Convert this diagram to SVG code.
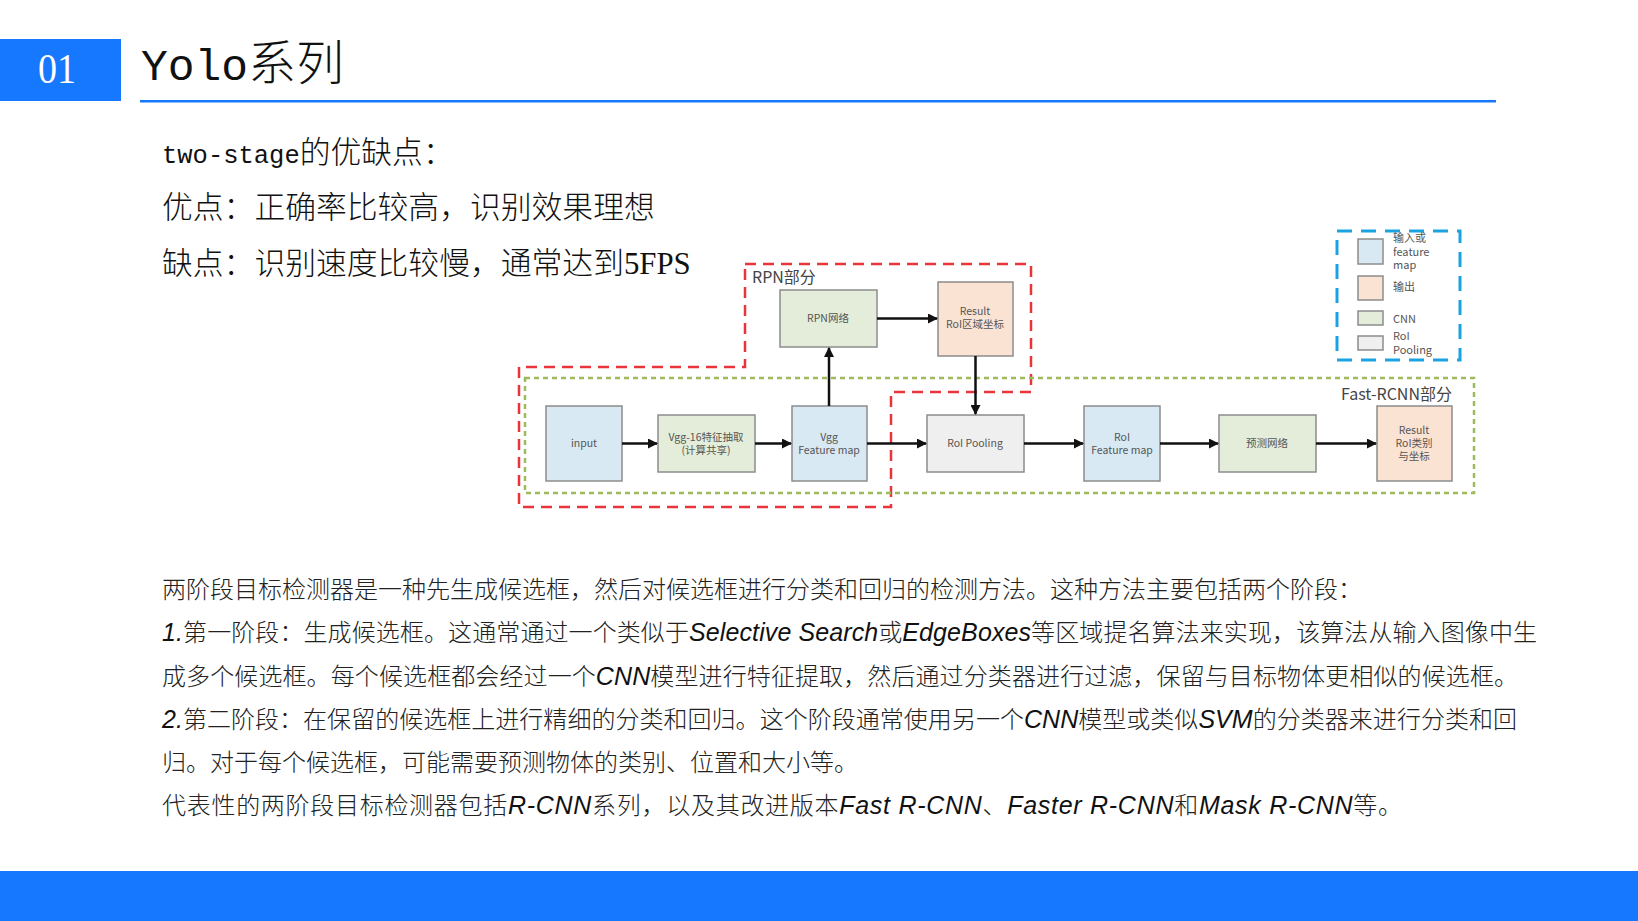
<svg xmlns="http://www.w3.org/2000/svg" width="1638" height="921" viewBox="0 0 1638 921">
<defs>
<style>
.serif{font-family:"Liberation Serif","Noto Sans CJK SC",serif;fill:#111;}
.body{font-family:"Noto Sans CJK SC",sans-serif;font-size:24px;fill:#222;}
.lat{font-family:"Liberation Sans","DejaVu Sans",sans-serif;font-style:italic;font-size:25px;fill:#111;}
.node rect{stroke:#8c8c8c;stroke-width:1.5;}
.nt{font-family:"Noto Sans CJK SC",sans-serif;font-size:10.5px;fill:#555;text-anchor:middle;}
.blue{fill:#d8e9f4;}
.green{fill:#e4edd9;}
.peach{fill:#fbe3d4;}
.grey{fill:#efefef;}
.conn line{stroke:#111;stroke-width:2.5;}
.lab{font-family:"Noto Sans CJK SC",sans-serif;font-size:16px;fill:#444;}
.lt{font-family:"Noto Sans CJK SC",sans-serif;font-size:11px;fill:#555;}
</style>
<marker id="ah" viewBox="0 0 10 10" refX="9" refY="5" markerWidth="4" markerHeight="4" orient="auto" markerUnits="strokeWidth">
<path d="M0,0 L10,5 L0,10 Z" fill="#111"/>
</marker>
</defs>
<rect width="1638" height="921" fill="#fff"/>

<g id="header">
<rect x="0" y="39" width="121" height="62" fill="#1677ff"/>
<text x="57" y="83" font-family="Liberation Serif,serif" font-size="42" fill="#fff" text-anchor="middle" textLength="38" lengthAdjust="spacingAndGlyphs">01</text>
<text x="141" y="80" font-size="48" class="serif"><tspan font-family="Liberation Mono,monospace" font-size="44.6">Yolo</tspan><tspan font-family="Noto Sans CJK SC,sans-serif" font-weight="300">系列</tspan></text>
<rect x="140" y="100" width="1356" height="2.5" fill="#1677ff"/>
</g>

<g id="pros-cons">
<text x="162" y="163" font-size="30.8" class="serif"><tspan font-family="Liberation Mono,monospace" font-size="25.5">two-stage</tspan><tspan font-family="Noto Sans CJK SC,sans-serif" font-weight="300">的优缺点：</tspan></text>
<text x="162" y="218" font-size="30.8" font-family="Noto Sans CJK SC,sans-serif" font-weight="300" fill="#111">优点：正确率比较高，识别效果理想</text>
<text x="162" y="274" font-size="30.8" font-family="Noto Sans CJK SC,sans-serif" font-weight="300" fill="#111">缺点：识别速度比较慢，通常达到<tspan font-family="Liberation Serif,serif">5FPS</tspan></text>
</g>

<g id="regions" fill="none">
<path d="M745,264 H1031 V392 H891 V507 H519 V367 H745 Z" stroke="#e8343a" stroke-width="2.5" stroke-dasharray="11,7"/>
<rect x="525" y="378" width="949" height="115" stroke="#9dbb5c" stroke-width="2.5" stroke-dasharray="5,4"/>
<rect x="1337" y="231" width="123" height="129" stroke="#1aa3e0" stroke-width="3" stroke-dasharray="15,9"/>
<text x="752" y="283" class="lab">RPN部分</text>
<text x="1452" y="400" class="lab" text-anchor="end">Fast-RCNN部分</text>
</g>

<g id="legend">
<rect x="1358" y="239" width="25" height="25" class="blue" stroke="#8c8c8c" stroke-width="1.5"/>
<rect x="1358" y="276" width="25" height="24" class="peach" stroke="#8c8c8c" stroke-width="1.5"/>
<rect x="1358" y="311" width="25" height="14" class="green" stroke="#8c8c8c" stroke-width="1.5"/>
<rect x="1358" y="336" width="25" height="14" class="grey" stroke="#8c8c8c" stroke-width="1.5"/>
<text class="lt" x="1393" y="242">输入或</text>
<text class="lt" x="1393" y="256">feature</text>
<text class="lt" x="1393" y="269">map</text>
<text class="lt" x="1393" y="291">输出</text>
<text class="lt" x="1393" y="323">CNN</text>
<text class="lt" x="1393" y="340">RoI</text>
<text class="lt" x="1393" y="354">Pooling</text>
</g>

<g id="input" class="node"><rect x="546" y="406" width="76" height="75" class="blue"/><text class="nt" x="584" y="447">input</text></g>
<g id="vgg16" class="node"><rect x="658" y="415" width="97" height="57" class="green"/><text class="nt" x="706" y="441">Vgg-16特征抽取</text><text class="nt" x="706" y="454">(计算共享)</text></g>
<g id="vggfm" class="node"><rect x="792" y="406" width="75" height="75" class="blue"/><text class="nt" x="829" y="441">Vgg</text><text class="nt" x="829" y="454">Feature map</text></g>
<g id="rpn" class="node"><rect x="780" y="290" width="97" height="57" class="green"/><text class="nt" x="828" y="322">RPN网络</text></g>
<g id="result1" class="node"><rect x="938" y="282" width="75" height="74" class="peach"/><text class="nt" x="975" y="315">Result</text><text class="nt" x="975" y="328">RoI区域坐标</text></g>
<g id="roipool" class="node"><rect x="927" y="415" width="97" height="57" class="grey"/><text class="nt" x="975" y="447">RoI Pooling</text></g>
<g id="roifm" class="node"><rect x="1084" y="406" width="76" height="75" class="blue"/><text class="nt" x="1122" y="441">RoI</text><text class="nt" x="1122" y="454">Feature map</text></g>
<g id="pred" class="node"><rect x="1219" y="415" width="97" height="57" class="green"/><text class="nt" x="1267" y="447">预测网络</text></g>
<g id="result2" class="node"><rect x="1377" y="406" width="75" height="75" class="peach"/><text class="nt" x="1414" y="434">Result</text><text class="nt" x="1414" y="447">RoI类别</text><text class="nt" x="1414" y="460">与坐标</text></g>

<g id="connectors" class="conn">
<line x1="622" y1="443.5" x2="657" y2="443.5" marker-end="url(#ah)"/>
<line x1="755" y1="443.5" x2="791" y2="443.5" marker-end="url(#ah)"/>
<line x1="867" y1="443.5" x2="926" y2="443.5" marker-end="url(#ah)"/>
<line x1="829" y1="406" x2="829" y2="348" marker-end="url(#ah)"/>
<line x1="877" y1="318.5" x2="937" y2="318.5" marker-end="url(#ah)"/>
<line x1="975.5" y1="356" x2="975.5" y2="414" marker-end="url(#ah)"/>
<line x1="1024" y1="443.5" x2="1083" y2="443.5" marker-end="url(#ah)"/>
<line x1="1160" y1="443.5" x2="1218" y2="443.5" marker-end="url(#ah)"/>
<line x1="1316" y1="443.5" x2="1376" y2="443.5" marker-end="url(#ah)"/>
</g>

<g id="paragraph" font-weight="300">
<text class="body" x="162" y="598">两阶段目标检测器是一种先生成候选框，然后对候选框进行分类和回归的检测方法。这种方法主要包括两个阶段：</text>
<text class="body" x="162" y="641" textLength="1375" lengthAdjust="spacing"><tspan class="lat">1.</tspan>第一阶段：生成候选框。这通常通过一个类似于<tspan class="lat">Selective Search</tspan>或<tspan class="lat">EdgeBoxes</tspan>等区域提名算法来实现，该算法从输入图像中生</text>
<text class="body" x="162" y="685" textLength="1356" lengthAdjust="spacing">成多个候选框。每个候选框都会经过一个<tspan class="lat">CNN</tspan>模型进行特征提取，然后通过分类器进行过滤，保留与目标物体更相似的候选框。</text>
<text class="body" x="162" y="728" textLength="1355" lengthAdjust="spacing"><tspan class="lat">2.</tspan>第二阶段：在保留的候选框上进行精细的分类和回归。这个阶段通常使用另一个<tspan class="lat">CNN</tspan>模型或类似<tspan class="lat">SVM</tspan>的分类器来进行分类和回</text>
<text class="body" x="162" y="771">归。对于每个候选框，可能需要预测物体的类别、位置和大小等。</text>
<text class="body" x="162" y="814" textLength="1240" lengthAdjust="spacing">代表性的两阶段目标检测器包括<tspan class="lat">R-CNN</tspan>系列，以及其改进版本<tspan class="lat">Fast R-CNN</tspan>、<tspan class="lat">Faster R-CNN</tspan>和<tspan class="lat">Mask R-CNN</tspan>等。</text>
</g>

<rect id="footer" x="0" y="871" width="1638" height="50" fill="#1677ff"/>
</svg>
